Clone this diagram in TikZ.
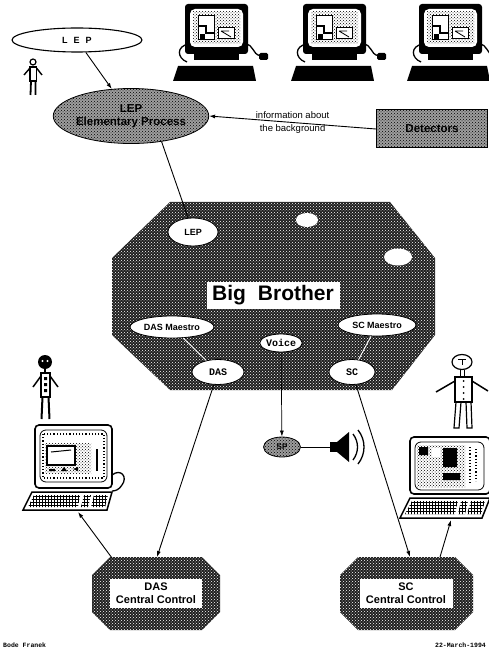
\documentclass[tikz,border=0pt]{standalone}
\usepackage{fontspec}
\setmainfont{Liberation Sans}
\setmonofont{Liberation Mono}
\usetikzlibrary{arrows.meta,patterns,shapes.geometric}

\tikzset{
  wire/.style={line width=0.9pt},
  arr/.style={wire,-{Latex[length=6pt,width=4pt]}},
  lightdots/.style={preaction={fill=black!38}, pattern=crosshatch dots},
  darkdots/.style={preaction={fill=black!88}, pattern=crosshatch dots, pattern color=white},
  bubble/.style={ellipse, draw, line width=0.8pt, fill=white, inner sep=0pt,
    font=\bfseries\fontsize{9}{10}\selectfont},
  monolabel/.style={font=\ttfamily\bfseries\fontsize{10}{11}\selectfont},
  panel/.style={fill=white, inner sep=0pt, align=center,
    font=\bfseries\fontsize{11}{12.5}\selectfont},
  limb/.style={line width=1.5pt},
  % front view terminal: monitor on a plinth, keyboard below
  termfront/.pic={
    \draw[line width=1.3pt] (4,40) .. controls (-9,42) and (-8,54) .. (2,58);
    \draw[line width=1.3pt] (59,40) .. controls (70,40) and (66,50) .. (76,52);
    \fill[rounded corners=1.5pt] (74,49) rectangle (83,56);
    \fill[rounded corners=3pt] (0,0) rectangle (63,50);
    \fill[white, rounded corners=5pt] (5,5) rectangle (58,43);
    \fill[pattern=crosshatch dots] (8,8) rectangle (55,40);
    \filldraw[fill=white, line width=1pt] (13,12) rectangle (29,36);
    \draw[line width=1.6pt] (13,22) -- (21,22) -- (21,29) -- (29,29);
    \fill (15,30) rectangle (20,35);
    \filldraw[fill=white, line width=1pt] (33,24) rectangle (49,35);
    \draw[line width=0.8pt] (36,27) -- (44,27) (36,27) -- (46,33);
    \fill (9,50) rectangle (54,56);
    \fill (-7,62) -- (68,62) -- (71,77) -- (-12,77) -- cycle;
  }
}

\begin{document}
\begin{tikzpicture}[x=1pt,y=-1pt]
\useasboundingbox (0,0) rectangle (488,652);

% ---------- terminals along the top ----------
\pic at (185,4) {termfront};
\pic at (303,4) {termfront};
\pic at (419,4) {termfront};

% ---------- physics side ----------
\node[bubble, line width=1.1pt, minimum width=130pt, minimum height=24pt] (lep) at (77,40)
  {L\hspace{6pt}E\hspace{6pt}P};
\node[ellipse, draw, line width=0.8pt, lightdots, minimum width=145pt,
  minimum height=55pt, inner sep=0pt, align=center,
  font=\bfseries\fontsize{11.5}{13}\selectfont] (ep) at (131,116)
  {LEP\\Elementary Process};
\node[draw, line width=1pt, lightdots, minimum width=111pt, minimum height=38pt,
  font=\bfseries\fontsize{11.5}{12}\selectfont] (det) at (432,129) {Detectors};

% small figure next to LEP
\draw[line width=1.2pt] (33,62) circle (3);
\draw[line width=1.3pt, fill=white] (30,67) rectangle (36.5,81);
\draw[line width=1.4pt] (30,68) -- (24,75) (36.5,68) -- (42,75);
\draw[line width=1.8pt] (31,81) -- (30.5,95) (35.5,81) -- (35.5,95);

% ---------- Big Brother ----------
\path[darkdots] (170,202) -- (390,202) -- (435,258) -- (435,335) -- (392,390)
  -- (170,390) -- (112,335) -- (112,258) -- cycle;

\node[bubble, minimum width=50pt, minimum height=28pt] (lepin) at (193,232) {LEP};
\node[ellipse, fill=white, minimum width=22pt, minimum height=14pt, inner sep=0pt] (spareA) at (307,220) {};
\node[ellipse, fill=white, minimum width=28pt, minimum height=17pt, inner sep=0pt] (spareB) at (398,257) {};
\node[fill=white, minimum width=133pt, minimum height=27pt, inner sep=0pt,
  font=\bfseries\fontsize{21}{22}\selectfont] (bb) at (273,295) {Big\hspace{12pt}Brother};
\node[bubble, minimum width=84pt, minimum height=22pt] (dasm) at (172,327) {DAS Maestro};
\node[bubble, minimum width=78pt, minimum height=22pt] (scm) at (377,325) {SC Maestro};
\node[bubble, monolabel, minimum width=42pt, minimum height=18pt] (voice) at (281,343) {Voice};
\node[bubble, monolabel, minimum width=52pt, minimum height=25pt] (das) at (218,372) {DAS};
\node[bubble, monolabel, minimum width=46pt, minimum height=25pt] (sc) at (352,372) {SC};

% speech output
\node[ellipse, draw, line width=0.8pt, lightdots, minimum width=37pt, minimum height=20pt,
  inner sep=0pt, font=\bfseries\fontsize{8}{9}\selectfont] (sp) at (282,447) {SP};
\coordinate (spk) at (330,447);
\fill (330,442) rectangle (337,452);
\fill (337,442) -- (349,432) -- (349,462) -- (337,452) -- cycle;
\draw[line width=1.3pt] (353,434) .. controls (359,442) and (359,452) .. (353,460);
\draw[line width=1.3pt] (358,430) .. controls (366,440) and (366,454) .. (358,464);

% ---------- central controls ----------
\path[darkdots] (110,557) -- (202,557) -- (220,575) -- (220,612) -- (202,630)
  -- (110,630) -- (92,612) -- (92,575) -- cycle;
\node[panel, minimum width=92pt, minimum height=29pt] (dascc) at (156,593) {DAS\\Central Control};
\coordinate (dasccTop) at (157,557);
\coordinate (dasccTL) at (112,558);

\path[darkdots] (358,557) -- (455,557) -- (473,575) -- (473,612) -- (455,630)
  -- (358,630) -- (340,612) -- (340,575) -- cycle;
\node[panel, minimum width=93pt, minimum height=29pt] (sccc) at (406,593) {SC\\Central Control};
\coordinate (scccTop) at (410,557);
\coordinate (scccTR) at (440,557);

% ---------- DAS operator and console ----------
\fill (45,362) circle (7);
\fill[white] (42.5,361) circle (1.2) (47.5,361) circle (1.2);
\draw[line width=1.3pt] (45,369) -- (45,373);
\draw[line width=1.3pt, fill=white] (41,373) rectangle (50,397);
\fill (44,377) rectangle (47,380) (44,383) rectangle (47,386) (44,389) rectangle (47,392);
\draw[limb] (41,376) -- (33,387) (50,376) -- (58,387);
\draw[line width=2pt] (42.5,397) -- (41.5,419) (48.5,397) -- (49.5,419);

\begin{scope}[shift={(35,425)}]
  \draw[line width=1.3pt] (77,50) .. controls (86,43) and (93,52) .. (87,60)
    .. controls (84,65) and (80,66) .. (77,66);
  \draw[line width=1.6pt, fill=white, rounded corners=4pt] (0,0) rectangle (77,63);
  \draw[line width=0.8pt, rounded corners=6pt] (5,5) rectangle (72,57);
  \draw[line width=1.2pt, dotted] (8,9) rectangle (69,53);
  \fill[pattern=crosshatch dots] (10,18) rectangle (56,48);
  \filldraw[fill=white, line width=1.2pt] (12,21) rectangle (40,40);
  \draw[line width=1pt] (16,27) -- (36,25);
  \fill (14,44) rectangle (20,46) (26,46) -- (29,42) -- (32,46) -- cycle (38,44) -- (43,42) -- (43,46) -- cycle;
  \draw[line width=1.2pt] (62,24) -- (62,46);
  \draw[line width=1.5pt] (-3,67) -- (77,67) -- (72,85) -- (-12,85) -- cycle;
  \fill[pattern=grid] (-1,70) -- (45,70) -- (43,82) -- (-7,82) -- cycle;
  \fill[pattern=grid] (49,70) -- (56,70) -- (53,82) -- (46,82) -- cycle;
  \fill[pattern=grid] (59,70) -- (73,70) -- (70,82) -- (56,82) -- cycle;
  \coordinate (kbL) at (43,87);
\end{scope}

% ---------- SC operator and console ----------
\draw[line width=1.2pt] (462,362) ellipse (10 and 7.5);
\draw[line width=0.9pt] (458,359) -- (466,359) (462,359) -- (462,365);
\draw[line width=1pt] (460,369.5) -- (460,377) (464,369.5) -- (464,377);
\draw[line width=1.2pt, fill=white] (455,377) rectangle (472,402);
\fill (463.5,381) circle (1) (463.5,387) circle (1) (463.5,393) circle (1) (463.5,399) circle (1);
\draw[limb] (455,381) -- (436,392) (472,381) -- (488,391);
\draw[line width=1.2pt] (456,402) -- (454,428) -- (459,428) -- (461,402)
  (466,402) -- (467,428) -- (472,428) -- (471,402);

\begin{scope}[shift={(410,437)}]
  \draw[line width=1.6pt, fill=white, rounded corners=4pt] (0,0) rectangle (80,57);
  \draw[line width=0.8pt, rounded corners=6pt] (5,5) rectangle (74,53);
  \fill[pattern=crosshatch dots] (7,8) rectangle (55,50);
  \fill (9,10) rectangle (18,18) (33,11) rectangle (47,30) (33,36) rectangle (50,43);
  \fill[white] (22,11) rectangle (30,20);
  \draw[line width=1.2pt, dotted] (60,10) -- (60,48) (66,12) -- (66,44);
  \draw[line width=1.5pt] (0,61) -- (80,61) -- (72,81) -- (-10,81) -- cycle;
  \fill[pattern=grid] (2,64) -- (48,64) -- (45,77) -- (-5,77) -- cycle;
  \fill[pattern=grid] (51,64) -- (58,64) -- (55,77) -- (48,77) -- cycle;
  \fill[pattern=grid] (61,64) -- (75,64) -- (71,77) -- (57,77) -- cycle;
  \coordinate (kbR) at (41,83);
\end{scope}

% ---------- connectors ----------
\draw[arr] (lep) -- (ep);
\draw[arr] (det.west) -- node[align=center, font=\fontsize{9.5}{12.5}\selectfont]
  {information about\\the background} (ep.east);
\draw[wire] (ep.-40) -- (lepin);
\draw[wire, white] (dasm) -- (das);
\draw[wire, white] (scm) -- (sc);
\draw[arr, line width=0.7pt] (voice) -- (sp);
\draw[wire] (sp) -- (spk);
\draw[arr] (das) -- (dasccTop);
\draw[arr] (sc) -- (scccTop);
\draw[arr] (dasccTL) -- (kbL);
\draw[arr] (scccTR) -- (kbR);

% ---------- footer ----------
\node[anchor=west, inner sep=0pt, font=\ttfamily\bfseries\fontsize{6.5}{7}\selectfont] (author) at (3,645) {Bode Franek};
\node[anchor=east, inner sep=0pt, font=\ttfamily\bfseries\fontsize{6.5}{7}\selectfont] (date) at (486,645) {22-March-1994};
\end{tikzpicture}
\end{document}
